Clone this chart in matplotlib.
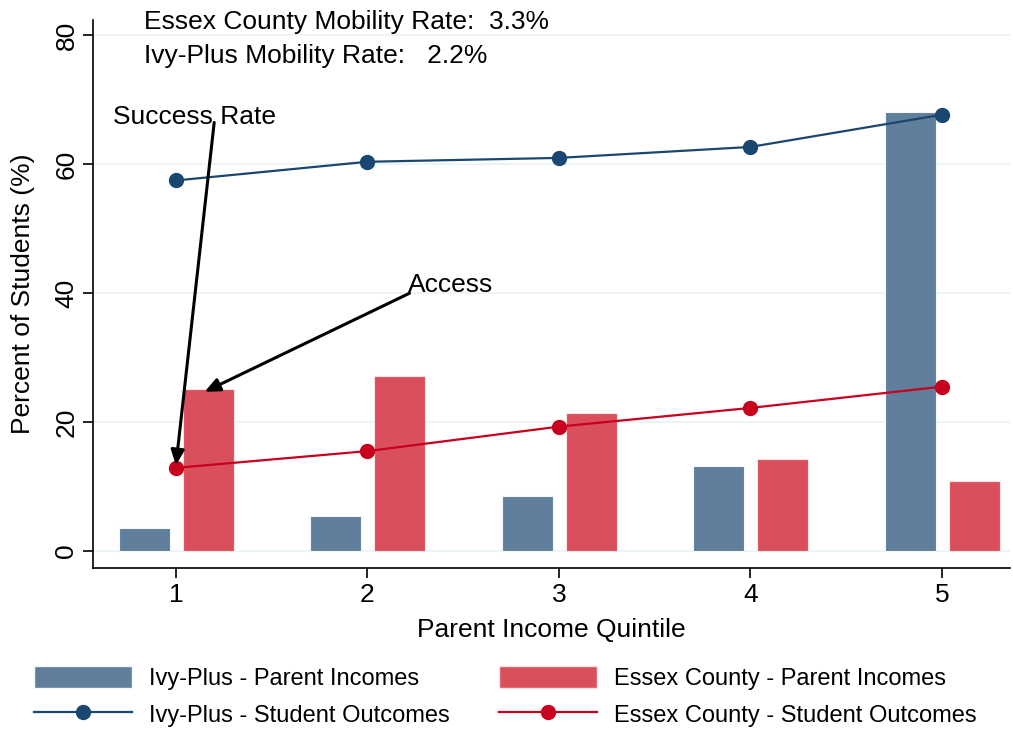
import numpy as np
import matplotlib.pyplot as plt
from matplotlib.patches import Patch
from matplotlib.lines import Line2D

quintiles = [1, 2, 3, 4, 5]
ivy_parent = [3.6, 5.5, 8.5, 13.2, 68.2]
essex_parent = [25.2, 27.2, 21.4, 14.3, 10.9]
ivy_outcome = [57.5, 60.4, 61.0, 62.7, 67.7]
essex_outcome = [12.9, 15.5, 19.3, 22.2, 25.5]

essex_rate = '3.3%'
ivy_rate = '2.2%'

navy = '#1A476F'
navy_bar = '#5F7F9C'
red = '#C8001E'
red_bar = '#D94F5C'

plt.rcParams['font.family'] = ['Arial', 'Liberation Sans', 'DejaVu Sans']
fs = 19

fig = plt.figure(figsize=(10.13, 7.3), dpi=100)
ax = fig.add_axes([0.0918, 0.2219, 0.905, 0.7507])

x = np.array(quintiles)
w = 0.266
ax.bar(x - 0.165, ivy_parent, w, color=navy_bar, edgecolor='#F4F7FA', linewidth=0.8, zorder=2)
ax.bar(x + 0.17, essex_parent, w, color=red_bar, edgecolor='#F9E4E6', linewidth=0.8, zorder=2)
ax.plot(x, ivy_outcome, color=navy, lw=1.6, marker='o', ms=10, zorder=3)
ax.plot(x, essex_outcome, color=red, lw=1.6, marker='o', ms=10, zorder=3)

ax.set_xlim(0.567, 5.355)
ax.set_ylim(-2.64, 82.4)
ax.set_yticks([0, 20, 40, 60, 80])
ax.set_xticks(quintiles)
for yv in [0, 20, 40, 60, 80]:
    ax.axhline(yv, color='#EAF2F3', lw=1.2, zorder=1)

ax.spines['top'].set_visible(False)
ax.spines['right'].set_visible(False)
ax.spines['left'].set_linewidth(1.2)
ax.spines['bottom'].set_linewidth(1.2)
ax.tick_params(axis='both', labelsize=fs, length=7, width=1.2)
plt.setp(ax.get_yticklabels(), rotation=90, va='center')
ax.set_xlabel('Parent Income Quintile', fontsize=fs, labelpad=8)
ax.set_ylabel('Percent of Students (%)', fontsize=fs, labelpad=14)

ax.text(0.834, 82.1, f'Essex County Mobility Rate:  {essex_rate}', fontsize=fs, va='center', ha='left', clip_on=False)
ax.text(0.834, 76.8, f'Ivy-Plus Mobility Rate:   {ivy_rate}', fontsize=fs, va='center', ha='left', clip_on=False)

ax.text(0.672, 67.3, 'Success Rate', fontsize=fs, va='center', ha='left')
ax.text(2.21, 41.3, 'Access', fontsize=fs, va='center', ha='left')
ax.annotate('', xy=(1.0, 13.3), xytext=(1.2, 66.5),
            arrowprops=dict(arrowstyle='-|>,head_length=0.9,head_width=0.4', color='black', lw=2.2, shrinkA=0, shrinkB=0), zorder=4)
ax.annotate('', xy=(1.15, 24.7), xytext=(2.22, 40.0),
            arrowprops=dict(arrowstyle='-|>,head_length=0.9,head_width=0.4', color='black', lw=2.2, shrinkA=0, shrinkB=0), zorder=4)

handles = [Patch(facecolor=navy_bar, edgecolor='#F4F7FA'),
           Line2D([], [], color=navy, lw=1.6, marker='o', ms=10),
           Patch(facecolor=red_bar, edgecolor='#F9E4E6'),
           Line2D([], [], color=red, lw=1.6, marker='o', ms=10)]
labels = ['Ivy-Plus - Parent Incomes', 'Ivy-Plus - Student Outcomes',
          'Essex County - Parent Incomes', 'Essex County - Student Outcomes']
fig.legend(handles, labels, ncol=2, loc='upper left', bbox_to_anchor=(0.0336, 0.088),
           frameon=False, fontsize=17, handlelength=4.15, handleheight=1.06,
           columnspacing=2.1, labelspacing=0.55, handletextpad=0.72,
           borderpad=0, borderaxespad=0)

fig.savefig('out.png', dpi=100)
